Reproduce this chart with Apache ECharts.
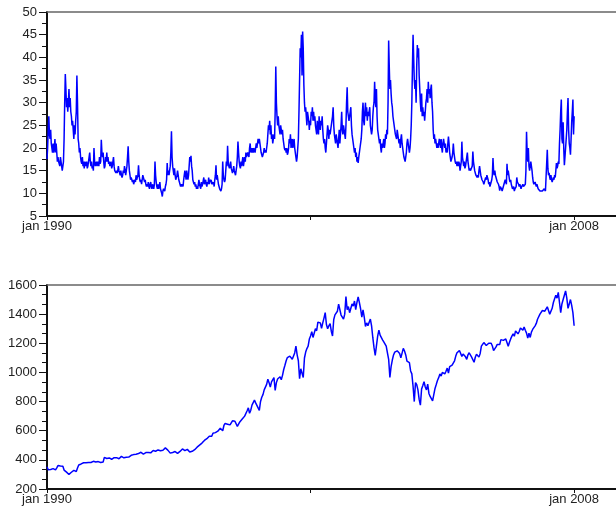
<!DOCTYPE html>
<html><head><meta charset="utf-8">
<script src="https://cdn.jsdelivr.net/npm/echarts@6/dist/echarts.min.js"></script>
<style>html,body{margin:0;padding:0;background:#fff}#c{width:616px;height:510px}</style>
</head><body><div id="c"></div><script>
// x-axis ticks (years) and their labels
const xTickYears = [1990, 1999, 2008];
const xTickLabels = ['jan 1990', '', 'jan 2008'];
const xLabelYears = [1990, 2008];

// Volatility index (top panel): ~4 readings per month, Jan..Dec
const vix1990 = [17.5,20,24,27, 23,22,24,21, 20,19,21,19, 20,22,19,21, 19,17,18,17, 17,16,18,17, 16,15,14.7,17, 22,30,36.3,33, 29,31,28,30, 33,29,31,28, 27,25,26,24, 22,25,23,26];
const vix1991 = [28,36,30,22, 21,19,20,18, 17,16.5,18,16, 17,15.5,17,16, 16,17,15.5,16, 17,18,19,17, 16,17,15.5,16, 15,20,17,16, 16,17,16,17, 17,16,18,16.5, 17,21.8,19,18, 19,17,15.5,16];
const vix1992 = [18,17,19,17, 18,16.5,17,16, 16,17,15.5,16, 17,18,16,15, 15,14.5,15,14.5, 15,16,15,14.5, 14,15,14,13.5, 14,15,14.5,16, 15,14,15,16, 18,20.4,17,15, 14,13,13.5,13, 12.5,13,12,12.5];
const vix1993 = [13,12.5,14,13, 13,14,16.2,14, 13,12.5,13,12, 13,14,13.5,13, 12.5,13,12,11.5, 12,11.5,12.5,11.5, 11,12,12.5,11.5, 11,12,11.5,11, 12,17,14,12.5, 11.5,11,12,11, 11.5,12.5,11,10.5, 10,9.3,10.5,11];
const vix1994 = [11,10.5,11.5,12, 13,16.7,14,15, 14,15,16,19, 23.7,18,16,15, 14,15.5,14,13, 13,14,15,14, 13,12.5,12,11.5, 12,11.5,12,11.5, 13,14,15,14, 13,15,14,13, 14,16,18,17, 18.3,16,15,13];
const vix1995 = [13,12,12.5,11.5, 12,11,11.5,11, 12,13,12,11.5, 11,12.5,11.5,12, 12,13.5,12,12.5, 13,12,11.5,12.5, 12,13.5,12,13, 12.5,13,12,12.5, 12,12.5,11.5,13, 14,16.2,13,14, 13,12,11.5,11, 11,10.5,11,12];
const vix1996 = [17,14,13,12.5, 13,15,17,16, 20.5,17,16,15.5, 16,17,15.5,15, 14.5,15,16,15, 14.5,14,15,16, 18,21.4,19,17, 16,15.5,17,16, 17,18,16,17, 18,17,19,18, 18,19,18.5,18, 20,21,19,20];
const vix1997 = [19,20,19,20, 20,19,20,21, 20,21,22,21, 22,21,20,19, 19,18,18.5,19, 20,19,19.5,19, 20,21,23,25, 24,26,23,25, 22,23,21,22, 23,22,28,38, 30,27,25,27, 25,24,23,25];
const vix1998 = [25,23,24,22, 21,20,19.5,20, 19,20,18.5,19, 20,22,21,23, 20,21,22,20, 21,22,20,19, 18,17,18,20, 22,28,35,42, 40,45,36,45.7, 42,34,30,28, 29,27,25,28, 27,26,24,26];
const vix1999 = [25,28,27,29, 26,28,26,27, 25,24,23,26, 24,23,27,25, 24,26,25,27, 24,22,21,22, 20,19,21,23, 25,24,22,24, 23,24,25,26, 27,29,25,23, 22,21,23,22, 21,20,22,24];
const vix2000 = [21,23,25,28, 24,23,25,24, 23,22,25,30, 33.4,28,27,26, 26,28,29,25, 23,22,21,20, 19,20,18,19, 17,18,16.7,18, 19,20,21,22, 24,28,30,26, 25,28,30,27, 29,26,28,27];
const vix2001 = [27,29,25,24, 23,24,27,29, 30,34.6,31,29, 33,27,24,23, 22,21,22,20, 19,21,20,21, 22,20,21,23, 22,24,23,30, 43.7,38,33,35, 32,30,29,27, 26,25,24,23, 23,22,24,23];
const vix2002 = [23,21,22,20, 22,23,21,21, 19,18,17.5,17, 18,19,21,22, 21,20,19,20, 22,25,30,38, 45,40,35,33, 35,30,38,42.7, 40,42,36,33, 30,28,32,27, 29,27,28,26, 28,30,31,33];
const vix2003 = [30,34.6,32,33, 31,33,34,30, 28,24,22,23, 21,22,21,20, 21,20,21,22, 21,20,22,20, 19,21,22,21, 20,21,19,20, 19,21,22.5,21, 19,18,17,17.5, 18,19,21,19, 18,17,16.5,17];
const vix2004 = [16,17,16,17, 16.5,15,16,17, 21.4,18,17,16, 17,15.5,16,17, 18,19,17,16, 15,15.5,15,15, 15,16,19.2,17, 16,15,14.5,14, 14,13.5,14,13.5, 15,16,15,14, 13.5,13,13,12.5, 12,12.5,13,13.5];
const vix2005 = [13,14,13.5,13, 12,12.5,11.5,12, 12,13,14,17.8, 15,14,15,14, 14,13,12.5,12.5, 12,11.5,10.6,11.5, 11.5,11,10.5,11, 11.5,12,12.5,13, 12.5,12,16.5,14, 15,14,13,12.5, 13,12,11.5,11, 11,11.5,10.5,11];
const vix2006 = [11,11.5,13.5,12.5, 12.5,12,11.5,12, 11.5,11,11.5,11.5, 12,11.5,11.5,11.5, 12,15,23.6,19, 17,20,16,15, 15,17,16,15, 13.5,12.5,12,12, 12.5,12,11.5,12, 11.5,11,10.8,11, 10.5,10.3,10.5,10.4, 10.5,10.2,10.5,11];
const vix2007 = [11,10.5,10.2,10.8, 19.6,15.5,14,14.5, 13.5,13,14,13, 12.5,13,13.5,13, 14,13.5,15,16.7, 15.5,16,17,16.5, 21,24,28,30.7, 22,21,25.7,20, 16.2,18,20,22, 24,28,31,24, 21,20,18.5,22, 25.7,28,30.7,23];
const vix2008 = [27];

// Stock index (bottom panel): 2 readings per month, Jan..Dec
const sp1990 = [353,332, 330,334, 338,340, 335,331, 345,361, 364,358, 366,356, 330,322, 316,306, 300,304, 315,322, 328,330];
const sp1991 = [320,344, 365,367, 372,375, 380,375, 380,390, 382,371, 382,388, 390,395, 385,388, 388,392, 382,375, 385,417];
const sp1992 = [418,409, 412,413, 405,404, 412,415, 418,415, 405,408, 415,424, 420,414, 420,418, 410,419, 425,431, 433,436];
const sp1993 = [435,439, 445,443, 450,452, 445,440, 440,450, 447,451, 448,448, 455,464, 462,459, 465,468, 465,462, 465,466];
const sp1994 = [474,482, 470,467, 465,446, 442,451, 450,457, 458,444, 450,458, 462,475, 467,463, 467,472, 465,454, 455,459];
const sp1995 = [465,470, 482,487, 490,501, 508,515, 525,533, 540,545, 558,562, 558,562, 583,584, 587,582, 597,605, 617,616];
const sp1996 = [600,636, 650,640, 645,646, 640,654, 668,669, 665,671, 630,639, 660,652, 680,687, 700,705, 737,757, 720,741];
const sp1997 = [776,786, 810,791, 790,757, 740,801, 830,848, 880,885, 918,954, 930,899, 935,947, 965,876, 930,955, 960,970];
const sp1998 = [950,980, 1020,1049, 1080,1102, 1115,1112, 1110,1091, 1100,1134, 1180,1121, 1080,957, 1025,1017, 965,1099, 1140,1164, 1180,1229];
const sp1999 = [1250,1280, 1240,1238, 1300,1286, 1345,1335, 1340,1302, 1340,1373, 1410,1329, 1300,1320, 1335,1283, 1250,1363, 1395,1389, 1420,1469];
const sp2000 = [1460,1394, 1390,1366, 1400,1520, 1430,1452, 1410,1421, 1470,1455, 1490,1431, 1480,1518, 1480,1437, 1380,1429, 1380,1315, 1340,1320];
const sp2001 = [1320,1366, 1320,1240, 1170,1117, 1110,1249, 1290,1256, 1250,1224, 1210,1211, 1180,1134, 1090,966, 1040,1085, 1120,1139, 1140,1148];
const sp2002 = [1140,1130, 1100,1107, 1165,1147, 1120,1077, 1090,1067, 1010,990, 905,800, 930,916, 880,815, 776,886, 910,936, 900,880];
const sp2003 = [920,856, 835,841, 805,848, 890,917, 945,964, 990,975, 1000,990, 990,1008, 1030,996, 1040,1051, 1050,1058, 1080,1112];
const sp2004 = [1135,1131, 1150,1145, 1110,1126, 1135,1107, 1090,1121, 1135,1141, 1105,1102, 1070,1104, 1125,1115, 1105,1130, 1180,1174, 1205,1212];
const sp2005 = [1185,1181, 1200,1204, 1200,1181, 1150,1157, 1175,1192, 1205,1191, 1225,1234, 1220,1220, 1230,1229, 1180,1207, 1230,1249, 1265,1248];
const sp2006 = [1285,1280, 1265,1281, 1305,1295, 1290,1311, 1290,1270, 1235,1270, 1240,1277, 1295,1304, 1320,1336, 1365,1378, 1400,1401, 1425,1418];
const sp2007 = [1420,1430, 1450,1455, 1400,1390, 1440,1480, 1505,1530, 1510,1550, 1480,1410, 1470,1500, 1530,1560, 1510,1440, 1470,1500, 1460,1410];
const sp2008 = [1320];

const vixYearsList = [vix1990,vix1991,vix1992,vix1993,vix1994,vix1995,vix1996,vix1997,vix1998,vix1999,vix2000,vix2001,vix2002,vix2003,vix2004,vix2005,vix2006,vix2007,vix2008];
const spYearsList = [sp1990,sp1991,sp1992,sp1993,sp1994,sp1995,sp1996,sp1997,sp1998,sp1999,sp2000,sp2001,sp2002,sp2003,sp2004,sp2005,sp2006,sp2007,sp2008];

function build(list, perYear) {
  const out = [];
  list.forEach((arr, yi) => {
    arr.forEach((v, i) => out.push([1990 + yi + i / perYear, v]));
  });
  return out;
}
const vixData = build(vixYearsList, 48);
const spData = build(spYearsList, 24);

const X_MIN = 1990, X_MAX = 2009.43;
const font = { fontFamily: 'Liberation Sans, Arial, sans-serif', fontSize: 13, color: '#222' };
const axisColor = '#111';

function bottomX(gi) {
  return {
    type: 'value', gridIndex: gi, min: X_MIN, max: X_MAX, position: 'bottom',
    axisLine: { show: true, lineStyle: { color: axisColor, width: 2 } },
    axisTick: { show: true, customValues: xTickYears, length: 4, lineStyle: { color: axisColor, width: 1 } },
    axisLabel: Object.assign({ customValues: xLabelYears, margin: 4,
      formatter: v => { const k = xTickYears.indexOf(Math.round(v)); return k >= 0 ? xTickLabels[k] : ''; } }, font),
    splitLine: { show: false }
  };
}
function topX(gi) {
  return {
    type: 'value', gridIndex: gi, min: X_MIN, max: X_MAX, position: 'top',
    axisLine: { show: true, lineStyle: { color: '#666', width: 1.5 } },
    axisTick: { show: false }, axisLabel: { show: false }, splitLine: { show: false }
  };
}
function leftY(gi, min, max, interval, minorSplit) {
  return {
    type: 'value', gridIndex: gi, min: min, max: max, interval: interval,
    axisLine: { show: true, lineStyle: { color: axisColor, width: 2 } },
    axisTick: { show: true, length: 8, lineStyle: { color: axisColor, width: 1 } },
    minorTick: { show: true, splitNumber: minorSplit, length: 5, lineStyle: { color: axisColor, width: 1 } },
    axisLabel: Object.assign({ margin: 10, formatter: v => String(v) }, font),
    splitLine: { show: false }, minorSplitLine: { show: false }
  };
}

const chart = echarts.init(document.getElementById('c'), null, { renderer: 'canvas' });
chart.setOption({
  animation: false,
  backgroundColor: '#fff',
  grid: [
    { left: 47, top: 12, width: 569, height: 204 },
    { left: 47, top: 285, width: 569, height: 204 }
  ],
  xAxis: [bottomX(0), bottomX(1), topX(0), topX(1)],
  yAxis: [leftY(0, 5, 50, 5, 2), leftY(1, 200, 1600, 200, 3)],
  series: [
    { type: 'line', xAxisIndex: 0, yAxisIndex: 0, data: vixData, showSymbol: false, silent: true,
      lineStyle: { color: '#0000ff', width: 1.5 } },
    { type: 'line', xAxisIndex: 1, yAxisIndex: 1, data: spData, showSymbol: false, silent: true,
      lineStyle: { color: '#0000ff', width: 1.5 } }
  ]
});
</script></body></html>
